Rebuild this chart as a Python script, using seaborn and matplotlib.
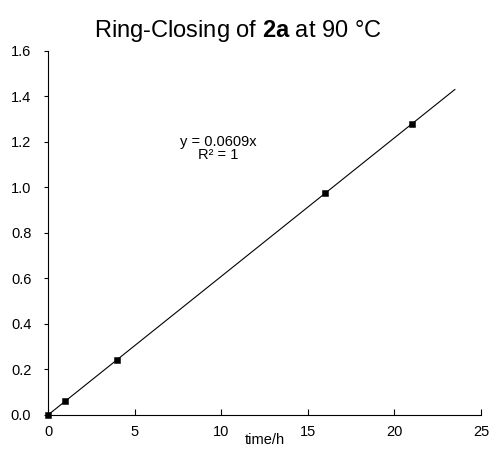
import numpy as np
import pandas as pd
import seaborn as sns
from matplotlib import pyplot as plt

# measured points
time_h = [0, 1, 4, 16, 21]
conversion = [0.0, 0.06, 0.243, 0.975, 1.28]

# linear trendline through the origin
slope = 0.0609
fit_x = np.array([0, 23.5])
fit_y = slope * fit_x

x_ticks = [0, 5, 10, 15, 20, 25]
y_ticks = [0.0, 0.2, 0.4, 0.6, 0.8, 1.0, 1.2, 1.4, 1.6]

sns.set_style("white", {"xtick.bottom": True, "ytick.left": True,
                        "text.color": "black", "axes.labelcolor": "black",
                        "xtick.color": "black", "ytick.color": "black"})
plt.rcParams["font.family"] = ["Liberation Sans", "DejaVu Sans"]
plt.rcParams["mathtext.fontset"] = "custom"
plt.rcParams["mathtext.rm"] = "Liberation Sans"
plt.rcParams["mathtext.bf"] = "Liberation Sans:bold"

fig = plt.figure(figsize=(4.92, 4.55), dpi=100)
ax = fig.add_axes([0.0976, 0.088, 0.880, 0.800])

df = pd.DataFrame({"time": time_h, "conv": conversion})
fit = pd.DataFrame({"time": fit_x, "conv": fit_y})

sns.lineplot(data=fit, x="time", y="conv", color="black", linewidth=0.8, ax=ax)
sns.scatterplot(data=df, x="time", y="conv", marker="s", color="black",
                s=22, edgecolor="black", zorder=3, clip_on=False, ax=ax)

ax.set_xlim(0, 25)
ax.set_ylim(0, 1.6)
ax.set_xticks(x_ticks)
ax.set_yticks(y_ticks)
ax.set_yticklabels([f"{v:.1f}" for v in y_ticks])
ax.tick_params(axis="x", direction="in", length=4, width=0.8, labelsize=10.5,
               pad=7, bottom=True, color="black", labelcolor="black")
ax.tick_params(axis="y", direction="out", length=3, width=0.8, labelsize=10.5,
               pad=9, left=True, color="black", labelcolor="black")
for side in ["top", "right"]:
    ax.spines[side].set_visible(False)
for side in ["left", "bottom"]:
    ax.spines[side].set_color("black")
    ax.spines[side].set_linewidth(0.8)

ax.set_xlabel("time/h", fontsize=10.5, labelpad=-4, color="black")
ax.set_ylabel("")
ax.text(9.85, 1.17, "y = 0.0609x\nR² = 1", fontsize=10.5, ha="center", va="center",
        linespacing=0.9, color="black")

fig.text(0.483, 0.932, r"Ring-Closing of $\mathbf{2a}$ at 90 °C", fontsize=17,
         ha="center", va="center", color="black")

fig.savefig("out.png", dpi=100)
